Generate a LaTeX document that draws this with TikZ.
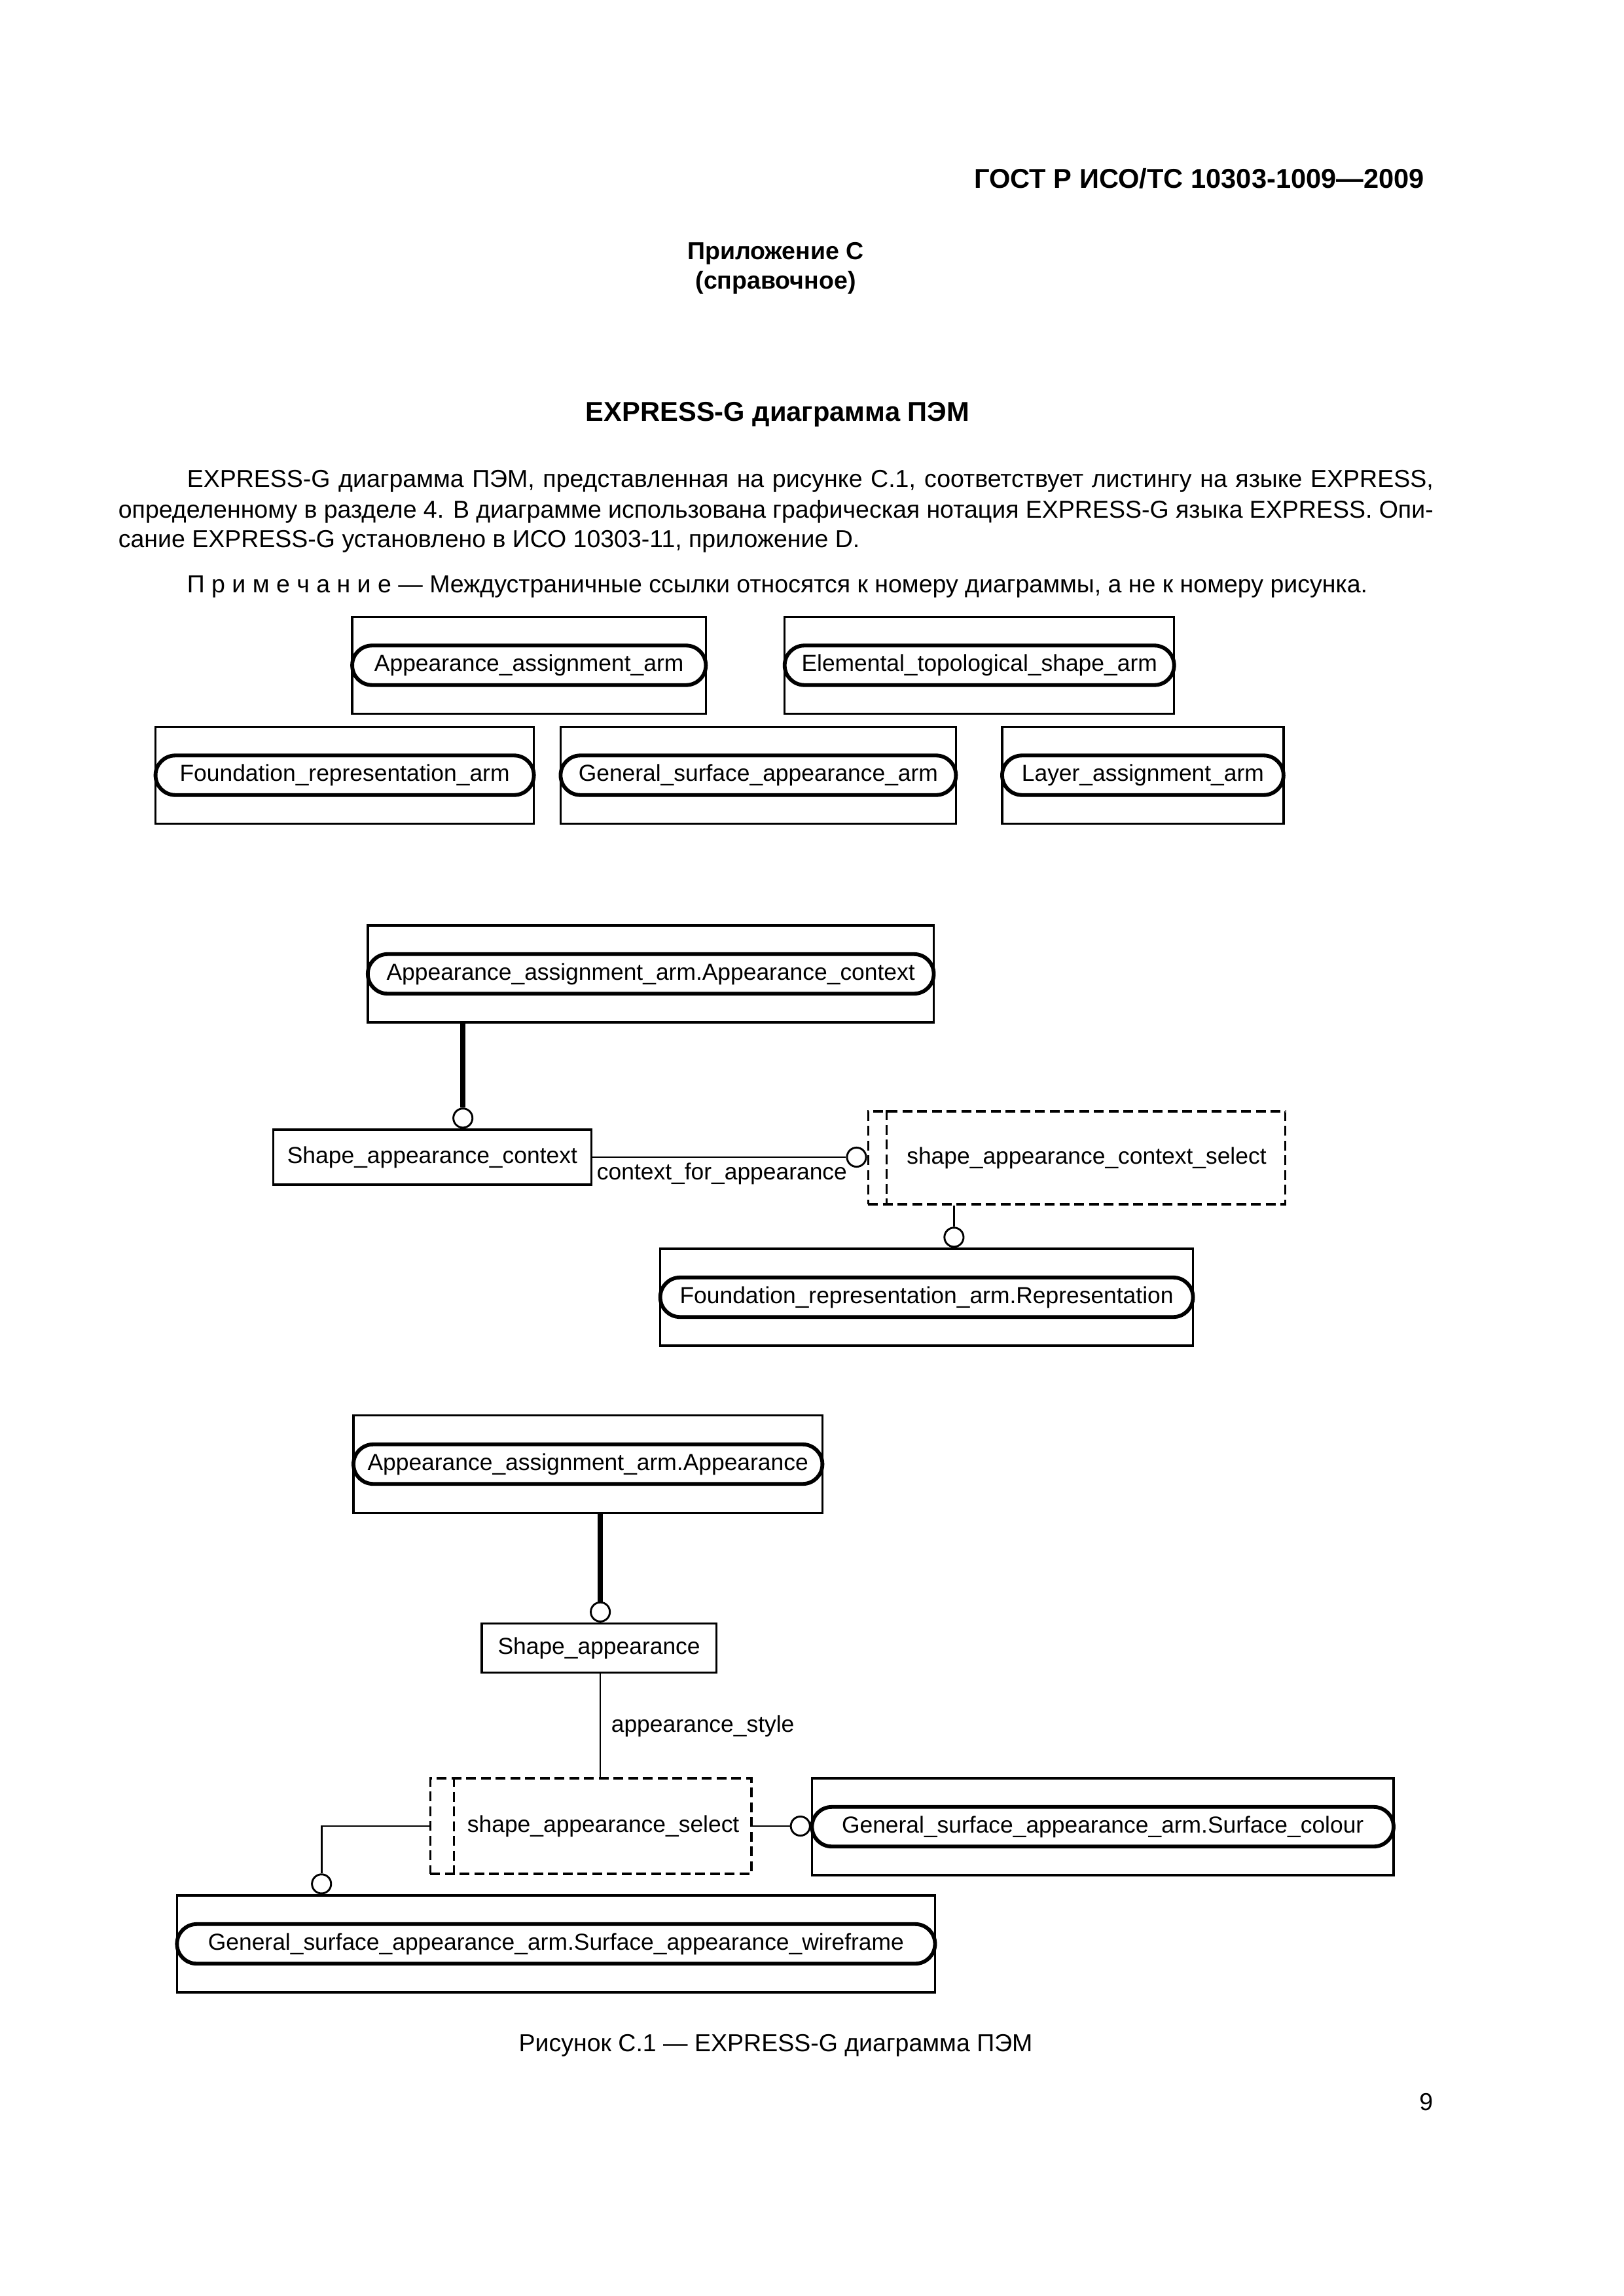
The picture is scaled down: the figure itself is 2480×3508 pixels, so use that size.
\documentclass[tikz,border=0pt]{standalone}
\usepackage{fontspec}
\setmainfont{Liberation Sans}
\usetikzlibrary{shapes.misc,calc}
\begin{document}
\begin{tikzpicture}[x=0.24pt,y=-0.24pt,
  dtxt/.style={font=\fontsize{8.5}{10}\selectfont},
  ebox/.style={draw, line width=0.8pt, rectangle, inner sep=0pt, minimum height=35.5pt},
  pill/.style={draw, line width=1.4pt, rounded rectangle, inner sep=0pt, minimum height=14.5pt, fill=white, dtxt},
  plainbox/.style={draw, line width=0.8pt, rectangle, inner sep=0pt, dtxt},
  selbox/.style={draw, line width=0.75pt, dash pattern=on 3.6pt off 1.8pt, rectangle, inner sep=0pt, dtxt},
  selline/.style={line width=0.75pt, dash pattern=on 3.6pt off 1.8pt},
  circ/.style={draw, circle, line width=0.7pt, minimum size=7pt, inner sep=0pt, fill=white},
  thickc/.style={line width=2pt},
  conn/.style={line width=0.7pt},
  thinc/.style={line width=0.55pt},
  lbl/.style={inner sep=0pt, dtxt},
  ptxt/.style={inner sep=0pt, font=\fontsize{9}{11}\selectfont},
  btxt/.style={inner sep=0pt, font=\fontsize{9}{11}\selectfont\bfseries},
  htxt/.style={inner sep=0pt, font=\fontsize{10}{12}\selectfont\bfseries},
]
\useasboundingbox (0,0) rectangle (2480,3508);

% ---------- page text ----------
\node[htxt, anchor=base east] (hdr) at (2177,288) {ГОСТ Р ИСО/ТС 10303-1009—2009};
\node[btxt, anchor=base] (app1) at (1185,397) {Приложение С};
\node[btxt, anchor=base] (app2) at (1185,442) {(справочное)};
\node[htxt, anchor=base] (title) at (1188,644) {EXPRESS-G диаграмма ПЭМ};
\node[ptxt, anchor=base west] (p1) at (285,745) {\makebox[456.96pt][s]{EXPRESS-G диаграмма ПЭМ, представленная на рисунке С.1, соответствует листингу на языке EXPRESS,}};
\node[ptxt, anchor=base west] (p2) at (180,792) {\makebox[482.16pt][s]{определенному в разделе 4. В диаграмме использована графическая нотация EXPRESS-G языка EXPRESS. Опи-}};
\node[ptxt, anchor=base west] (p3) at (180,837) {сание EXPRESS-G установлено в ИСО 10303-11, приложение D.};
\node[ptxt, anchor=base west] (note) at (285,906) {П р и м е ч а н и е — Междустраничные ссылки относятся к номеру диаграммы, а не к номеру рисунка.};
\node[ptxt, anchor=base] (cap) at (1185,3134) {Рисунок С.1 — EXPRESS-G диаграмма ПЭМ};
\node[ptxt, anchor=base east] (pnum) at (2190,3224) {9};

% ---------- schema references, top rows ----------
\node[ebox, minimum width=129.67pt] (A) at (808.2,1016.5) {};
\node[pill, minimum width=129.67pt] (Ap) at (A.center) {Appearance\_assignment\_arm};
\node[ebox, minimum width=142.8pt] (B) at (1496.2,1016.5) {};
\node[pill, minimum width=142.8pt] (Bp) at (B.center) {Elemental\_topological\_shape\_arm};
\node[ebox, minimum width=138.74pt] (C) at (526.6,1184.5) {};
\node[pill, minimum width=138.74pt] (Cp) at (C.center) {Foundation\_representation\_arm};
\node[ebox, minimum width=144.95pt] (D) at (1158.4,1184.5) {};
\node[pill, minimum width=144.95pt] (Dp) at (D.center) {General\_surface\_appearance\_arm};
\node[ebox, minimum width=103.16pt] (E) at (1745.9,1184.5) {};
\node[pill, minimum width=103.16pt] (Ep) at (E.center) {Layer\_assignment\_arm};

% ---------- second group ----------
\node[ebox, minimum width=207.52pt] (F) at (994.2,1488) {};
\node[pill, minimum width=207.52pt] (Fp) at (F.center) {Appearance\_assignment\_arm.Appearance\_context};
\node[plainbox, minimum width=116.53pt, minimum height=20.16pt] (G) at (660.4,1768) {Shape\_appearance\_context};
\node[selbox, minimum width=153.07pt, minimum height=34.08pt] (H) at (1645,1769) {\hspace*{7.2pt}shape\_appearance\_context\_select};
\draw[selline] ([xshift=7.2pt]H.north west) -- ([xshift=7.2pt]H.south west);
\node[ebox, minimum width=195.34pt] (I) at (1415.6,1982) {};
\node[pill, minimum width=195.34pt] (Ip) at (I.center) {Foundation\_representation\_arm.Representation};

\coordinate (x1) at (707.2,0);
\coordinate (x3) at (1457.4,0);
\node[circ, anchor=south] (c1) at (G.north -| x1) {};
\draw[thickc] (F.south -| x1) -- (c1.north);
\node[circ, anchor=east] (c2) at (G.east -| H.west) {};
\draw[conn] (G.east) -- (c2.west);
\node[lbl, anchor=west] (lab1) at (911.1,1793) {context\_for\_appearance};
\node[circ, anchor=south] (c3) at (I.north -| x3) {};
\draw[conn] (H.south -| x3) -- (c3.north);

% ---------- third group ----------
\node[ebox, minimum width=171.94pt, minimum height=35.76pt] (J) at (898.2,2237) {};
\node[pill, minimum width=171.94pt] (Jp) at (J.center) {Appearance\_assignment\_arm.Appearance};
\node[plainbox, minimum width=85.97pt, minimum height=18pt] (K) at (915.1,2518) {Shape\_appearance};
\node[selbox, minimum width=117.73pt, minimum height=35.04pt] (L) at (902.7,2790) {\hspace*{9.1pt}shape\_appearance\_select};
\draw[selline] ([xshift=9.1pt]L.north west) -- ([xshift=9.1pt]L.south west);
\node[ebox, minimum width=213.25pt] (M) at (1684.7,2791) {};
\node[pill, minimum width=213.25pt] (Mp) at (M.center) {General\_surface\_appearance\_arm.Surface\_colour};
\node[ebox, minimum width=277.96pt] (N) at (849.4,2970) {};
\node[pill, minimum width=277.96pt] (Np) at (N.center) {General\_surface\_appearance\_arm.Surface\_appearance\_wireframe};

\coordinate (x4) at (917.1,0);
\coordinate (x6) at (491.2,0);
\node[circ, anchor=south] (c4) at (K.north -| x4) {};
\draw[thickc] (J.south -| x4) -- (c4.north);
\draw[thinc] (K.south -| x4) -- (L.north -| x4);
\node[lbl, anchor=west] (lab2) at (933,2637) {appearance\_style};
\node[circ, anchor=east] (c5) at (L.east -| M.west) {};
\draw[conn] (L.east) -- (c5.west);
\node[circ, anchor=south] (c6) at (N.north -| x6) {};
\draw[conn] (L.west) -| (c6.north);
\end{tikzpicture}
\end{document}
